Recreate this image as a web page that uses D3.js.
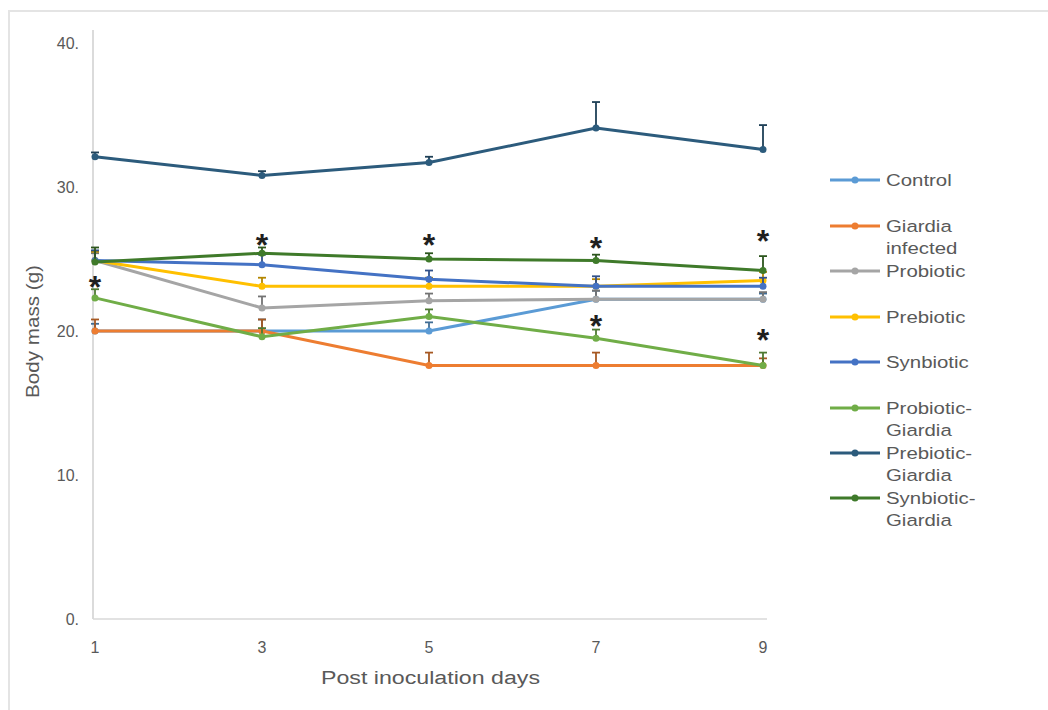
<!DOCTYPE html>
<html>
<head>
<meta charset="utf-8">
<script src="https://cdn.jsdelivr.net/npm/d3@7"></script>
<style>
  body { margin: 0; background: #fff; }
  text { font-family: "Liberation Sans", Arial, sans-serif; fill: #595959; }
</style>
</head>
<body>
<svg id="canvas" width="1048" height="710"></svg>
<script>
const days = [1, 3, 5, 7, 9]
const yTicks = [0, 10, 20, 30, 40]

const names = ["Control", "Giardia infected", "Probiotic", "Prebiotic", "Synbiotic",
               "Probiotic-Giardia", "Prebiotic-Giardia", "Synbiotic-Giardia"]
const colors = ["#5b9bd5", "#ed7d31", "#a5a5a5", "#ffc000", "#4472c4",
                "#70ad47", "#2c5b7c", "#3f7a2a"]

const control     = [20.0, 20.0, 20.0, 22.2, 22.2]
const giardia     = [20.0, 20.0, 17.6, 17.6, 17.6]
const probiotic   = [24.9, 21.6, 22.1, 22.2, 22.2]
const prebiotic   = [24.9, 23.1, 23.1, 23.1, 23.5]
const synbiotic   = [24.9, 24.6, 23.6, 23.1, 23.1]
const probGiardia = [22.3, 19.6, 21.0, 19.5, 17.6]
const prebGiardia = [32.1, 30.8, 31.7, 34.1, 32.6]
const synGiardia  = [24.8, 25.4, 25.0, 24.9, 24.2]

// upper error (g)
const errControl     = [0.5, 0.8, 0.6, 0.6, 0.4]
const errGiardia     = [0.8, 0.8, 0.9, 0.9, 0.5]
const errProbiotic   = [0.5, 0.8, 0.5, 0.6, 0.5]
const errPrebiotic   = [0.6, 0.6, 0.6, 0.5, 0.6]
const errSynbiotic   = [0.7, 0.7, 0.6, 0.7, 0.6]
const errProbGiardia = [0.6, 0.6, 0.5, 0.6, 0.9]
const errPrebGiardia = [0.3, 0.3, 0.4, 1.8, 1.7]
const errSynGiardia  = [1.0, 0.4, 0.4, 0.4, 1.0]

// significance marks
const starDays   = [1, 3, 5, 7, 9, 7, 9]
const starValues = [23.4, 26.3, 26.3, 26.1, 26.6, 20.7, 19.7]

const values = [control, giardia, probiotic, prebiotic, synbiotic, probGiardia, prebGiardia, synGiardia]
const errors = [errControl, errGiardia, errProbiotic, errPrebiotic, errSynbiotic, errProbGiardia, errPrebGiardia, errSynGiardia]

const series = names.map((name, i) => ({
  name: name,
  color: colors[i],
  points: days.map((d, j) => ({ day: d, value: values[i][j], err: errors[i][j] }))
}))

const canvas = d3.select("#canvas")

// faint frame of the pasted figure
canvas.append("rect")
      .attr("x", 9).attr("y", 11)
      .attr("width", 1060).attr("height", 720)
      .attr("fill", "none")
      .attr("stroke", "#e4e4e4")
      .attr("stroke-width", 2)

const x = d3.scaleLinear().domain([1, 9]).range([95, 763])
const y = d3.scaleLinear().domain([0, 40]).range([619, 43])

// axes lines
canvas.append("line")
      .attr("x1", 93).attr("x2", 93).attr("y1", 30).attr("y2", y(0))
      .attr("stroke", "#cfcfcf").attr("stroke-width", 1.5)
canvas.append("line")
      .attr("x1", 93).attr("x2", 767).attr("y1", y(0)).attr("y2", y(0))
      .attr("stroke", "#d9d9d9").attr("stroke-width", 1.5)

canvas.selectAll(".ytick")
      .data(yTicks)
      .enter()
      .append("text")
      .attr("class", "ytick")
      .attr("x", 79)
      .attr("y", d => y(d) + 6)
      .attr("text-anchor", "end")
      .style("font-size", "16px")
      .text(d => d + ".")

canvas.selectAll(".xtick")
      .data(days)
      .enter()
      .append("text")
      .attr("class", "xtick")
      .attr("x", d => x(d))
      .attr("y", 653)
      .attr("text-anchor", "middle")
      .style("font-size", "16px")
      .text(d => d)

canvas.append("text")
      .attr("x", 321).attr("y", 684)
      .attr("textLength", 219)
      .attr("lengthAdjust", "spacingAndGlyphs")
      .style("font-size", "18px")
      .text("Post inoculation days")

canvas.append("text")
      .attr("transform", "translate(39, 398) rotate(-90)")
      .attr("textLength", 133)
      .attr("lengthAdjust", "spacingAndGlyphs")
      .style("font-size", "18px")
      .text("Body mass (g)")

const line = d3.line().x(p => x(p.day)).y(p => y(p.value))

const groups = canvas.selectAll(".series")
                     .data(series)
                     .enter()
                     .append("g")
                     .attr("class", "series")

// error bars
groups.each(function (s) {
  const g = d3.select(this)
  const bars = g.selectAll(".err").data(s.points).enter().append("g").attr("class", "err")
  bars.append("line")
      .attr("x1", p => x(p.day)).attr("x2", p => x(p.day))
      .attr("y1", p => y(p.value)).attr("y2", p => y(p.value + p.err))
      .attr("stroke", d3.color(s.color).darker(1)).attr("stroke-width", 1.8)
  bars.append("line")
      .attr("x1", p => x(p.day) - 4).attr("x2", p => x(p.day) + 4)
      .attr("y1", p => y(p.value + p.err)).attr("y2", p => y(p.value + p.err))
      .attr("stroke", d3.color(s.color).darker(1)).attr("stroke-width", 1.8)
})

groups.append("path")
      .attr("d", s => line(s.points))
      .attr("fill", "none")
      .attr("stroke", s => s.color)
      .attr("stroke-width", 3)

groups.each(function (s) {
  d3.select(this).selectAll("circle")
    .data(s.points)
    .enter()
    .append("circle")
    .attr("cx", p => x(p.day))
    .attr("cy", p => y(p.value))
    .attr("r", 3.5)
    .attr("fill", s.color)
})

canvas.selectAll(".star")
      .data(starDays.map((d, i) => ({ day: d, value: starValues[i] })))
      .enter()
      .append("text")
      .attr("class", "star")
      .attr("x", p => x(p.day))
      .attr("y", p => y(p.value) + 16)
      .attr("text-anchor", "middle")
      .style("font-size", "32px")
      .style("font-weight", "bold")
      .style("fill", "#1f1f1f")
      .text("*")

// legend
const legendY = [180, 226, 271, 317, 362, 408, 453, 498]
const legend = canvas.selectAll(".legend")
                     .data(series)
                     .enter()
                     .append("g")
                     .attr("class", "legend")
                     .attr("transform", (s, i) => "translate(830, " + legendY[i] + ")")

legend.append("line")
      .attr("x1", 0).attr("x2", 50).attr("y1", 0).attr("y2", 0)
      .attr("stroke", s => s.color).attr("stroke-width", 3)
legend.append("circle")
      .attr("cx", 25).attr("cy", 0).attr("r", 3.5)
      .attr("fill", s => s.color)

legend.each(function (s) {
  const parts = s.name.includes("-") ? [s.name.split("-")[0] + "-", s.name.split("-")[1]]
              : s.name.includes(" ") ? s.name.split(" ") : [s.name]
  d3.select(this).selectAll("text")
    .data(parts)
    .enter()
    .append("text")
    .attr("transform", (t, k) => "translate(56, " + (6 + k * 22) + ") scale(1.2, 1)")
    .style("font-size", "17px")
    .text(t => t)
})
</script>
</body>
</html>
